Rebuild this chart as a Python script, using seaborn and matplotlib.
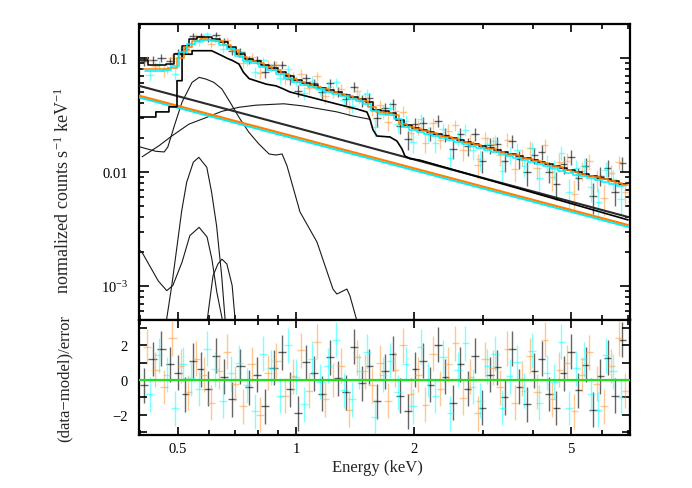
import numpy as np
import matplotlib
matplotlib.use("Agg")
import matplotlib.pyplot as plt
import seaborn as sns
from matplotlib.ticker import FixedLocator, FixedFormatter, NullFormatter

# ---------------- data ----------------
# dataset 1 (black)
black_edges = [0.400, 0.421, 0.443, 0.466, 0.489, 0.512, 0.535, 0.560, 0.585, 0.612,
               0.641, 0.672, 0.705, 0.740, 0.777, 0.815, 0.856, 0.899, 0.944, 0.990,
               1.038, 1.088, 1.140, 1.195, 1.251, 1.310, 1.372, 1.436, 1.503, 1.573,
               1.646, 1.722, 1.801, 1.883, 1.968, 2.057, 2.150, 2.246, 2.347, 2.452,
               2.562, 2.676, 2.795, 2.919, 3.049, 3.184, 3.325, 3.472, 3.626, 3.786,
               3.953, 4.127, 4.309, 4.499, 4.697, 4.904, 5.120, 5.345, 5.580, 5.826,
               6.082, 6.349, 6.628, 6.919]
black_flux = [0.0934, 0.0964, 0.1011, 0.0951, 0.1115, 0.1208, 0.1556, 0.1575, 0.1484, 0.1604,
              0.1399, 0.1145, 0.1140, 0.0958, 0.0963, 0.0753, 0.0861, 0.0869, 0.0653, 0.0518,
              0.0666, 0.0601, 0.0502, 0.0599, 0.0506, 0.0440, 0.0558, 0.0424, 0.0449, 0.0295,
              0.0362, 0.0394, 0.0252, 0.0193, 0.0266, 0.0271, 0.0217, 0.0281, 0.0213, 0.0160,
              0.0217, 0.0169, 0.0215, 0.0126, 0.0171, 0.0175, 0.0125, 0.0188, 0.0130, 0.00995,
              0.0140, 0.0150, 0.0101, 0.00786, 0.0117, 0.0136, 0.00886, 0.0114, 0.00614, 0.00926,
              0.0109, 0.00673, 0.0119]
black_model = [0.096, 0.087, 0.087, 0.088, 0.108, 0.128, 0.146, 0.152, 0.153, 0.148,
               0.138, 0.124, 0.108, 0.099, 0.094, 0.087, 0.081, 0.076, 0.069, 0.064,
               0.0605, 0.0578, 0.0550, 0.0524, 0.0500, 0.0477, 0.0454, 0.0434, 0.0410, 0.0350,
               0.0340, 0.0330, 0.0285, 0.0258, 0.0245, 0.0235, 0.0226, 0.0216, 0.0207, 0.0199,
               0.0191, 0.0184, 0.0176, 0.0169, 0.0163, 0.0156, 0.0150, 0.0144, 0.0139, 0.0133,
               0.0128, 0.0123, 0.0118, 0.0113, 0.0109, 0.0104, 0.0100, 0.0097, 0.0093, 0.0089,
               0.0086, 0.0083, 0.0079]
black_err_pct = [9, 9, 9, 9, 8, 7, 6, 6, 6, 6, 7, 7, 7,
                 8, 8, 9, 9, 9, 10, 10,
                 10, 10, 11, 11, 11, 11, 12, 12, 12, 13,
                 13, 13, 13, 14, 14, 14, 14, 15, 15, 15,
                 15, 16, 16, 16, 16, 17, 17, 17, 17, 18,
                 18, 18, 18, 19, 19, 19, 19, 20, 20, 20, 21, 21, 22]

# dataset 2 (orange)
orange_edges = [0.407, 0.428, 0.450, 0.473, 0.497, 0.520, 0.544, 0.569, 0.595, 0.623,
                0.652, 0.684, 0.717, 0.752, 0.790, 0.829, 0.870, 0.914, 0.959, 1.006,
                1.055, 1.106, 1.160, 1.215, 1.273, 1.333, 1.396, 1.461, 1.529, 1.600,
                1.674, 1.751, 1.831, 1.914, 2.000, 2.089, 2.183, 2.281, 2.383, 2.490,
                2.601, 2.717, 2.838, 2.965, 3.097, 3.235, 3.379, 3.529, 3.686, 3.850,
                4.021, 4.200, 4.387, 4.582, 4.786, 4.999, 5.221, 5.453, 5.695, 5.948,
                6.212, 6.488, 6.776, 7.000]
orange_flux = [0.0952, 0.0848, 0.0768, 0.1004, 0.1064, 0.1179, 0.1518, 0.1491, 0.1318, 0.1449,
               0.1446, 0.1151, 0.0906, 0.1027, 0.0738, 0.0874, 0.0866, 0.0655, 0.0675, 0.0730,
               0.0546, 0.0693, 0.0462, 0.0507, 0.0532, 0.0368, 0.0516, 0.0447, 0.0356, 0.0385,
               0.0275, 0.0341, 0.0339, 0.0220, 0.0249, 0.0180, 0.0267, 0.0192, 0.0230, 0.0258,
               0.0155, 0.0184, 0.0116, 0.0197, 0.0177, 0.0140, 0.0192, 0.0107, 0.0136, 0.0163,
               0.0108, 0.0171, 0.00902, 0.0123, 0.0126, 0.00646, 0.0103, 0.0124, 0.00862, 0.00589,
               0.00976, 0.0122, 0.00668]
orange_model = [0.080, 0.080, 0.080, 0.081, 0.100, 0.124, 0.140, 0.146, 0.145, 0.140,
                0.130, 0.117, 0.103, 0.095, 0.090, 0.084, 0.078, 0.072, 0.066, 0.0615,
                0.0585, 0.0558, 0.0532, 0.0507, 0.0485, 0.0462, 0.0441, 0.0420, 0.0370, 0.0338,
                0.0330, 0.0315, 0.0265, 0.0250, 0.0238, 0.0228, 0.0218, 0.0209, 0.0201, 0.0193,
                0.0185, 0.0178, 0.0171, 0.0164, 0.0158, 0.0151, 0.0145, 0.0140, 0.0134, 0.0129,
                0.0124, 0.0119, 0.0114, 0.0110, 0.0105, 0.0101, 0.0097, 0.0093, 0.0090, 0.0086,
                0.0083, 0.0080, 0.0077]
orange_err_pct = [10, 10, 10, 10, 8, 7, 7, 7, 7, 7, 7, 8, 8,
                  9, 9, 10, 10, 10, 11, 11,
                  11, 11, 12, 12, 12, 12, 13, 13, 13, 14,
                  14, 14, 14, 15, 15, 15, 15, 16, 16, 16,
                  16, 17, 17, 17, 17, 18, 18, 18, 18, 19,
                  19, 19, 19, 20, 20, 20, 20, 21, 21, 21, 22, 22, 22]

# dataset 3 (cyan)
cyan_edges = [0.414, 0.436, 0.458, 0.481, 0.505, 0.529, 0.554, 0.580, 0.607, 0.636,
              0.667, 0.699, 0.733, 0.768, 0.806, 0.845, 0.887, 0.931, 0.976, 1.023,
              1.073, 1.124, 1.178, 1.234, 1.293, 1.354, 1.418, 1.484, 1.553, 1.625,
              1.700, 1.778, 1.859, 1.943, 2.030, 2.121, 2.216, 2.315, 2.418, 2.526,
              2.638, 2.755, 2.877, 3.005, 3.139, 3.278, 3.423, 3.575, 3.734, 3.899,
              4.072, 4.252, 4.440, 4.637, 4.842, 5.056, 5.279, 5.513, 5.757, 6.011,
              6.277, 6.555, 6.845]
cyan_flux = [0.0708, 0.0878, 0.0803, 0.0722, 0.1211, 0.1329, 0.1370, 0.1610, 0.1459, 0.1200,
             0.1223, 0.1134, 0.0927, 0.0754, 0.0953, 0.0835, 0.0664, 0.0804, 0.0632, 0.0495,
             0.0632, 0.0524, 0.0555, 0.0616, 0.0427, 0.0382, 0.0447, 0.0481, 0.0247, 0.0339,
             0.0367, 0.0262, 0.0282, 0.0183, 0.0289, 0.0216, 0.0179, 0.0239, 0.0132, 0.0199,
             0.0234, 0.0157, 0.0129, 0.0176, 0.0187, 0.0102, 0.0142, 0.0156, 0.0113, 0.0161,
             0.00881, 0.0121, 0.0106, 0.0148, 0.00673, 0.0108, 0.0114, 0.00732, 0.00547, 0.0105,
             0.00866, 0.00585]
cyan_model = [0.077, 0.077, 0.078, 0.086, 0.113, 0.132, 0.142, 0.143, 0.140, 0.131,
              0.119, 0.105, 0.095, 0.090, 0.084, 0.078, 0.073, 0.067, 0.062, 0.0585,
              0.0558, 0.0530, 0.0506, 0.0483, 0.0460, 0.0440, 0.0420, 0.0398, 0.0340, 0.0325,
              0.0318, 0.0290, 0.0250, 0.0236, 0.0225, 0.0216, 0.0207, 0.0198, 0.0190, 0.0182,
              0.0175, 0.0168, 0.0162, 0.0155, 0.0149, 0.0143, 0.0137, 0.0132, 0.0127, 0.0122,
              0.0117, 0.0112, 0.0108, 0.0103, 0.0099, 0.0095, 0.0092, 0.0088, 0.0085, 0.0081,
              0.0078, 0.0075]
cyan_err_pct = [10, 10, 10, 10, 8, 7, 7, 7, 7, 7, 7, 8, 8,
                9, 9, 10, 10, 10, 11, 11,
                11, 11, 12, 12, 12, 12, 13, 13, 13, 14,
                14, 14, 14, 15, 15, 15, 15, 16, 16, 16,
                16, 17, 17, 17, 17, 18, 18, 18, 18, 19,
                19, 19, 19, 20, 20, 20, 20, 21, 21, 21, 22, 22]

# additive / partial model components (energy keV, normalized counts)
comp_step_E = [0.400, 0.440, 0.440, 0.475, 0.475, 0.498, 0.498, 0.513, 0.513, 0.544,
               0.544, 0.610, 0.648, 0.668, 0.690, 0.716, 0.735, 0.760, 0.840, 0.890,
               0.930, 0.965, 1.085, 1.271, 1.430, 1.516, 1.543, 1.570, 1.607, 1.735,
               1.807, 1.860, 1.894, 1.950, 2.068, 7.000]
comp_step_V = [0.0304, 0.0304, 0.0337, 0.0337, 0.0373, 0.0373, 0.0633, 0.0633, 0.108, 0.108,
               0.116, 0.116, 0.105, 0.0995, 0.095, 0.0886, 0.075, 0.066, 0.059, 0.057,
               0.0535, 0.0504, 0.0455, 0.0395, 0.0357, 0.0336, 0.029, 0.0235, 0.0207, 0.0203,
               0.0187, 0.016, 0.0138, 0.0131, 0.0127, 0.0038]

pl_black_E = [0.400, 1.000, 7.000]
pl_black_V = [0.0569, 0.0245, 0.00403]
pl_orange_E = [0.400, 1.000, 7.000]
pl_orange_V = [0.0467, 0.0203, 0.00343]
pl_cyan_E = [0.400, 1.000, 7.000]
pl_cyan_V = [0.0450, 0.0195, 0.00330]

bb_E = [0.406, 0.448, 0.484, 0.534, 0.590, 0.648, 0.716, 0.791, 0.932, 1.042,
        1.271, 1.397, 1.543]
bb_V = [0.0136, 0.0170, 0.0208, 0.0263, 0.0300, 0.0341, 0.0370, 0.0386, 0.0397, 0.0380,
        0.0337, 0.0310, 0.0290]

apec_E = [0.401, 0.440, 0.462, 0.472, 0.492, 0.513, 0.544, 0.567, 0.590, 0.618,
          0.648, 0.684, 0.716, 0.759, 0.805, 0.854, 0.889, 0.922, 0.949, 1.024,
          1.131, 1.242, 1.271, 1.348, 1.372, 1.440]
apec_V = [0.0166, 0.0152, 0.0150, 0.0166, 0.0264, 0.0411, 0.0612, 0.0677, 0.0654, 0.0612,
          0.0535, 0.0395, 0.0302, 0.0223, 0.0176, 0.0144, 0.0141, 0.0144, 0.0113, 0.00446,
          0.00243, 0.00094, 0.00085, 0.00094, 0.00082, 0.00045]

gauss1_E = [0.466, 0.483, 0.497, 0.512, 0.527, 0.548, 0.566, 0.593, 0.610, 0.628, 0.647, 0.662]
gauss1_V = [0.00045, 0.00101, 0.00211, 0.00458, 0.00812, 0.0122, 0.01346, 0.0110, 0.00664,
            0.00338, 0.00123, 0.00045]

gauss2_E = [0.401, 0.408, 0.446, 0.469, 0.486, 0.513, 0.537, 0.567, 0.594, 0.611, 0.629, 0.654]
gauss2_V = [0.00205, 0.00191, 0.00111, 0.00091, 0.00101, 0.00162, 0.00277, 0.00327, 0.00269,
            0.00172, 0.00088, 0.00045]

gauss3_E = [0.592, 0.615, 0.633, 0.648, 0.667, 0.688, 0.702]
gauss3_V = [0.00045, 0.00123, 0.00156, 0.00172, 0.00156, 0.00101, 0.00045]

x_ticks = [0.5, 1, 2, 5]
x_tick_labels = ["0.5", "1", "2", "5"]
y_ticks = [1e-3, 1e-2, 1e-1]
y_tick_labels = [r"$10^{-3}$", "0.01", "0.1"]
res_ticks = [-2, 0, 2]
res_tick_labels = ["\u22122", "0", "2"]

# ---------------- styling ----------------
sns.set_theme(style="ticks")
plt.rcParams["font.family"] = ["Liberation Serif", "DejaVu Serif"]
plt.rcParams["mathtext.fontset"] = "custom"
plt.rcParams["mathtext.rm"] = "Liberation Serif"
plt.rcParams["mathtext.default"] = "regular"

W, H = 692, 489
L, R = 139, 629.5
T1, B1, B2 = 25, 320.7, 435.7

fig = plt.figure(figsize=(W / 100, H / 100), dpi=100)
ax1 = fig.add_axes([L / W, 1 - B1 / H, (R - L) / W, (B1 - T1) / H])
ax2 = fig.add_axes([L / W, 1 - B2 / H, (R - L) / W, (B2 - B1) / H])

for ax in (ax1, ax2):
    ax.set_xscale("log")
    ax.set_xlim(0.3986, 7.06)
ax1.set_yscale("log")
ax1.set_ylim(5.06e-4, 0.199)
ax2.set_ylim(-3.13, 3.45)

BLACK_D = "#000000"
ORANGE_D = "#ff9a3c"
CYAN_D = "#00ffff"
BLACK_M = "#000000"
ORANGE_M = "#ff7f00"
CYAN_M = "#00f0ff"


def draw_dataset(edges, flux, model, pct, dcolor, alpha, z):
    e = np.asarray(edges)
    f = np.asarray(flux)
    m = np.asarray(model)
    c = np.sqrt(e[:-1] * e[1:])
    err = m * np.asarray(pct) / 100.0
    xerr = [c - e[:-1], e[1:] - c]
    ax1.errorbar(c, f, xerr=xerr, yerr=err, fmt="none", ecolor=dcolor,
                 elinewidth=1.0, alpha=alpha, zorder=z)
    resid = (f - m) / err
    ax2.errorbar(c, resid, xerr=xerr, yerr=np.ones_like(resid), fmt="none",
                 ecolor=dcolor, elinewidth=1.0, alpha=alpha, zorder=z)


draw_dataset(black_edges, black_flux, black_model, black_err_pct, BLACK_D, 0.6, 2)
draw_dataset(orange_edges, orange_flux, orange_model, orange_err_pct, ORANGE_D, 0.55, 2.1)
draw_dataset(cyan_edges, cyan_flux, cyan_model, cyan_err_pct, CYAN_D, 0.5, 2.2)


def line(ax, x, y, color, lw, step=False, z=4, alpha=1.0):
    kw = dict(drawstyle="steps-post") if step else {}
    sns.lineplot(x=x, y=y, ax=ax, color=color, lw=lw, estimator=None, sort=False,
                 legend=False, zorder=z, alpha=alpha, **kw)


# components
line(ax1, apec_E, apec_V, "#1a1a1a", 0.8)
line(ax1, bb_E, bb_V, "#1a1a1a", 0.8)
line(ax1, gauss1_E, gauss1_V, "#1a1a1a", 0.8)
line(ax1, gauss2_E, gauss2_V, "#1a1a1a", 0.8)
line(ax1, gauss3_E, gauss3_V, "#1a1a1a", 0.8)
line(ax1, pl_cyan_E, pl_cyan_V, CYAN_M, 1.5)
line(ax1, pl_orange_E, pl_orange_V, ORANGE_M, 1.5)
line(ax1, pl_black_E, pl_black_V, "#2a2a2a", 1.5)
line(ax1, comp_step_E, comp_step_V, BLACK_M, 1.2)

# total models (histogram steps)
for edges, model, col in ((black_edges, black_model, BLACK_M),
                          (orange_edges, orange_model, ORANGE_M),
                          (cyan_edges, cyan_model, CYAN_M)):
    line(ax1, list(edges), list(model) + [model[-1]], col, 1.1, step=True, z=5)

# residual zero line
line(ax2, [0.3986, 7.06], [0, 0], "#1fe01f", 1.6, z=6)

# ---------------- axes / ticks ----------------
for ax in (ax1, ax2):
    for sp in ax.spines.values():
        sp.set_linewidth(1.6)
        sp.set_color("black")
        sp.set_visible(True)
    ax.xaxis.set_major_locator(FixedLocator(x_ticks))
    ax.xaxis.set_minor_locator(FixedLocator([0.4, 0.6, 0.7, 0.8, 0.9, 3, 4, 6, 7]))
    ax.xaxis.set_minor_formatter(NullFormatter())
    ax.tick_params(which="both", direction="in", top=True, right=True,
                   width=1.2, colors="black", labelsize=10.5)
    ax.tick_params(which="major", length=5.5, pad=5)
    ax.tick_params(which="minor", length=3.5)

ax1.xaxis.set_major_formatter(NullFormatter())
ax2.xaxis.set_major_formatter(FixedFormatter(x_tick_labels))

ax1.yaxis.set_major_locator(FixedLocator(y_ticks))
ax1.yaxis.set_major_formatter(FixedFormatter(y_tick_labels))
ax1.yaxis.set_minor_locator(FixedLocator(
    [k * 10.0 ** p for p in (-4, -3, -2, -1) for k in range(2, 10)]))
ax1.yaxis.set_minor_formatter(NullFormatter())
ax1.tick_params(axis="y", which="major", length=7, pad=8)

ax2.yaxis.set_major_locator(FixedLocator(res_ticks))
ax2.yaxis.set_major_formatter(FixedFormatter(res_tick_labels))
ax2.yaxis.set_minor_locator(FixedLocator([-3, -1, 1, 3]))
ax2.yaxis.set_minor_formatter(NullFormatter())
ax2.tick_params(axis="y", which="both", length=5.5, pad=8)

ax1.set_xlabel("")
ax1.set_ylabel("normalized counts s$^{-1}$ keV$^{-1}$", fontsize=13)
ax1.yaxis.set_label_coords(-0.135, 0.44)
ax2.set_ylabel("(data\u2212model)/error", fontsize=12)
ax2.yaxis.set_label_coords(-0.135, 0.5)
ax2.set_xlabel("Energy (keV)", fontsize=12)
ax2.xaxis.set_label_coords(0.487, -0.21)

fig.savefig("out.png", dpi=100)
